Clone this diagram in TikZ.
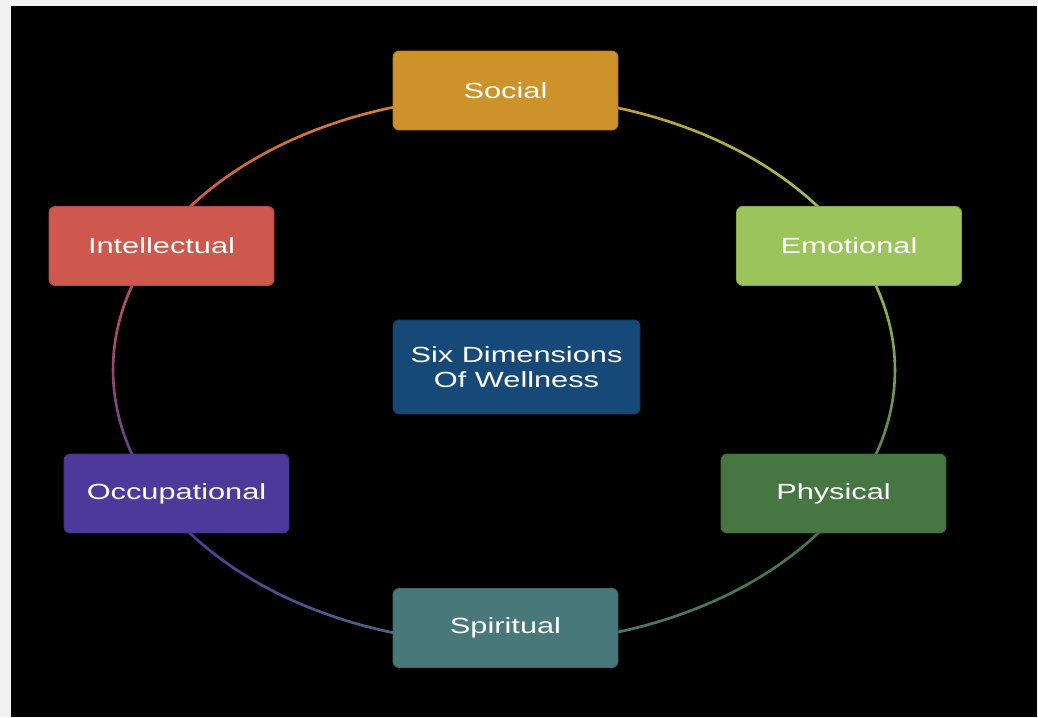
\documentclass[tikz,border=0pt]{standalone}
\usepackage{graphicx}
\usepackage{fontspec}
\setmainfont{Liberation Sans}
\usetikzlibrary{calc}
\definecolor{socialgold}{RGB}{205,146,41}
\definecolor{emotionalgreen}{RGB}{155,197,90}
\definecolor{physicalgreen}{RGB}{70,119,66}
\definecolor{spiritualteal}{RGB}{72,120,122}
\definecolor{occupationalpurple}{RGB}{75,58,154}
\definecolor{intellectualred}{RGB}{206,87,78}
\definecolor{hubblue}{RGB}{22,73,120}
\definecolor{pagegray}{RGB}{242,242,242}
\newcommand{\widetext}[1]{\scalebox{1.4}[1]{#1}}

\begin{document}
\begin{tikzpicture}[
    x=0.02cm, y=0.02cm,
    box/.style={rounded corners=3.5pt, align=center, minimum width=4.5cm, minimum height=1.58cm,
      inner sep=2pt, text=white, font=\fontsize{12.5}{14.2}\selectfont, line width=0.5pt},
    dimension/.style={box, fill=#1, draw=#1!85!black},
    hubbox/.style={box, fill=hubblue, draw=hubblue!85!black, minimum width=4.94cm, minimum height=1.88cm},
    rim/.style={line width=1.5pt, line cap=round}
]
\useasboundingbox (0,0) rectangle (1038,717);
\fill[pagegray] (0,0) rectangle (1038,717);
\fill[black] (11,0) rectangle (1037,711);

% ring through the six dimensions, colour blended from box to box
\coordinate (ring) at (504,347);
\foreach \a/\b/\ca/\cb in {90/28.4/socialgold/emotionalgreen,
    28.4/-32.7/emotionalgreen/physicalgreen,
    -32.7/-90/physicalgreen/spiritualteal,
    -90/-147.3/spiritualteal/occupationalpurple,
    212.7/151.6/occupationalpurple/intellectualred,
    151.6/90/intellectualred/socialgold}{
  \foreach \i in {0,...,29}{
    \pgfmathsetmacro\ta{\a+(\b-\a)*\i/30}
    \pgfmathsetmacro\tb{\a+(\b-\a)*(\i+1)/30}
    \pgfmathsetmacro\mix{100-100*(\i+0.5)/30}
    \draw[rim, \ca!\mix!\cb] ($(ring)+(\ta:391 and 274)$) -- ($(ring)+(\tb:391 and 274)$);
  }
}

\node[dimension=socialgold] (social) at (505.5,626.5) {\widetext{Social}};
\node[dimension=emotionalgreen] (emotional) at (849,471) {\widetext{Emotional}};
\node[dimension=physicalgreen] (physical) at (833.5,223.5) {\widetext{Physical}};
\node[dimension=spiritualteal] (spiritual) at (505.5,89) {\widetext{Spiritual}};
\node[dimension=occupationalpurple] (occupational) at (176.5,223.5) {\widetext{Occupational}};
\node[dimension=intellectualred] (intellectual) at (161.5,471) {\widetext{Intellectual}};

\node[hubbox] (wellness) at (516.5,350) {\widetext{Six Dimensions}\\\widetext{Of Wellness}};
\end{tikzpicture}
\end{document}
